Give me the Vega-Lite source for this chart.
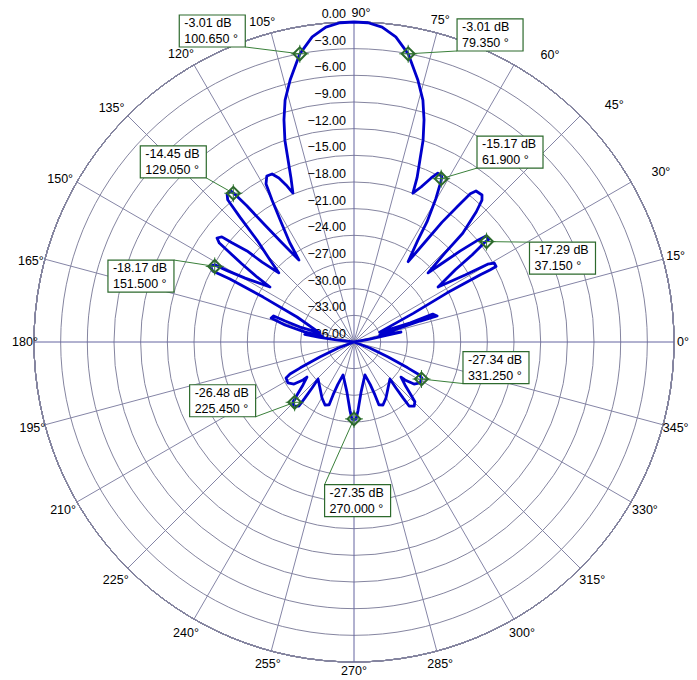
{
"$schema": "https://vega.github.io/schema/vega-lite/v6.json",
"width": 640, "height": 640,
"autosize": {"type": "none"},
"padding": {"left": 34, "top": 22, "right": 23, "bottom": 18},
"background": "white",
"config": {"view": {"stroke": null}, "text": {"font": "Liberation Sans", "fontSize": 12.5, "color": "#000000"}},
"datasets": {
"rings": [{"db": -36},{"db": -33},{"db": -30},{"db": -27},{"db": -24},{"db": -21},{"db": -18},{"db": -15},{"db": -12},{"db": -9},{"db": -6},{"db": -3},{"db": 0}],
"spokes": [{"a":0,"t":"0°"},{"a":15,"t":"15°"},{"a":30,"t":"30°"},{"a":45,"t":"45°"},{"a":60,"t":"60°"},{"a":75,"t":"75°"},{"a":90,"t":"90°"},{"a":105,"t":"105°"},{"a":120,"t":"120°"},{"a":135,"t":"135°"},{"a":150,"t":"150°"},{"a":165,"t":"165°"},{"a":180,"t":"180°"},{"a":195,"t":"195°"},{"a":210,"t":"210°"},{"a":225,"t":"225°"},{"a":240,"t":"240°"},{"a":255,"t":"255°"},{"a":270,"t":"270°"},{"a":285,"t":"285°"},{"a":300,"t":"300°"},{"a":315,"t":"315°"},{"a":330,"t":"330°"},{"a":345,"t":"345°"}],
"curve": [
{"i":0,"a":5,"db":-36},{"i":1,"a":10.6,"db":-34.2},{"i":2,"a":11.5,"db":-32.3},{"i":3,"a":12.0,"db":-30.6},{"i":4,"a":13.3,"db":-31.8},{"i":5,"a":15.1,"db":-33.0},{"i":6,"a":16.9,"db":-30.6},{"i":7,"a":17.6,"db":-28.2},{"i":8,"a":17.4,"db":-26.2},{"i":9,"a":19.5,"db":-26.6},{"i":10,"a":18.7,"db":-29.3},{"i":11,"a":20.1,"db":-32.4},{"i":12,"a":21.0,"db":-32.9},
{"i":13,"a":25.8,"db":-28.6},{"i":14,"a":27.8,"db":-24.2},{"i":15,"a":28.0,"db":-19.9},{"i":16,"a":27.9,"db":-18.7},{"i":17,"a":28.0,"db":-17.9},{"i":18,"a":29.4,"db":-17.9},{"i":19,"a":30.2,"db":-18.6},{"i":20,"a":31.1,"db":-21.4},{"i":21,"a":33.2,"db":-24.7},
{"i":22,"a":35.5,"db":-22.0},{"i":23,"a":36.4,"db":-19.5},{"i":24,"a":37.3,"db":-17.6},{"i":25,"a":37.3,"db":-16.9},{"i":26,"a":38.8,"db":-17.0},{"i":27,"a":39.4,"db":-17.9},{"i":28,"a":40.6,"db":-20.3},{"i":29,"a":41.9,"db":-22.9},{"i":30,"a":43.0,"db":-24.6},
{"i":31,"a":44.4,"db":-21.7},{"i":32,"a":45.0,"db":-18.7},{"i":33,"a":46.8,"db":-15.9},{"i":34,"a":47.97,"db":-14.5},{"i":35,"a":48.95,"db":-14.07},{"i":36,"a":51.07,"db":-14.16},{"i":37,"a":51.9,"db":-14.8},{"i":38,"a":52.6,"db":-16.7},{"i":39,"a":53.7,"db":-19.3},{"i":40,"a":54.6,"db":-22.2},{"i":41,"a":56.0,"db":-25.1},
{"i":42,"a":57.9,"db":-22.5},{"i":43,"a":58.7,"db":-20.2},{"i":44,"a":60.3,"db":-17.4},{"i":45,"a":61.6,"db":-15.4},{"i":46,"a":62.1,"db":-14.9},{"i":47,"a":63.6,"db":-14.8},{"i":48,"a":64.8,"db":-15.6},{"i":49,"a":66.6,"db":-17.0},{"i":50,"a":68.4,"db":-18.0},
{"i":51,"a":69.0,"db":-16.2},{"i":52,"a":70.1,"db":-14.2},{"i":53,"a":71.1,"db":-12.0},{"i":54,"a":72.5,"db":-9.8},{"i":55,"a":74.1,"db":-7.7},{"i":56,"a":76.3,"db":-5.66},{"i":57,"a":79.35,"db":-3.01},{"i":58,"a":82.2,"db":-1.36},{"i":59,"a":84.9,"db":-0.43},{"i":60,"a":87.5,"db":-0.05},{"i":61,"a":90,"db":0},
{"i":62,"a":92.5,"db":-0.05},{"i":63,"a":95.1,"db":-0.43},{"i":64,"a":97.8,"db":-1.36},{"i":65,"a":100.65,"db":-3.01},{"i":66,"a":103.7,"db":-5.66},{"i":67,"a":105.9,"db":-7.7},{"i":68,"a":107.5,"db":-9.8},{"i":69,"a":108.9,"db":-12.0},{"i":70,"a":109.9,"db":-14.2},{"i":71,"a":111.0,"db":-16.2},{"i":72,"a":112.3,"db":-17.9},
{"i":73,"a":113.4,"db":-16.75},{"i":74,"a":114.6,"db":-15.7},{"i":75,"a":116.0,"db":-14.97},{"i":76,"a":117.7,"db":-14.9},{"i":77,"a":119.1,"db":-15.65},{"i":78,"a":120.0,"db":-17.55},{"i":79,"a":121.3,"db":-20.2},{"i":80,"a":122.9,"db":-22.7},{"i":81,"a":123.9,"db":-24.9},
{"i":82,"a":126.0,"db":-22.2},{"i":83,"a":127.3,"db":-19.5},{"i":84,"a":128.2,"db":-16.5},{"i":85,"a":128.8,"db":-14.8},{"i":86,"a":129.2,"db":-14.1},{"i":87,"a":130.6,"db":-14.06},{"i":88,"a":131.6,"db":-14.6},{"i":89,"a":132.4,"db":-16.97},{"i":90,"a":133.6,"db":-20.2},{"i":91,"a":135.7,"db":-22.8},{"i":92,"a":137.4,"db":-24.5},
{"i":93,"a":139.0,"db":-22.3},{"i":94,"a":139.6,"db":-20.2},{"i":95,"a":140.9,"db":-18.3},{"i":96,"a":141.5,"db":-17.0},{"i":97,"a":142.8,"db":-16.65},{"i":98,"a":143.7,"db":-17.2},{"i":99,"a":144.3,"db":-18.8},{"i":100,"a":145.1,"db":-20.6},{"i":101,"a":146.2,"db":-22.9},{"i":102,"a":146.8,"db":-24.7},
{"i":103,"a":149.6,"db":-21.8},{"i":104,"a":150.6,"db":-19.7},{"i":105,"a":151.0,"db":-18.1},{"i":106,"a":152.2,"db":-17.7},{"i":107,"a":153.3,"db":-18.2},{"i":108,"a":153.1,"db":-20.35},{"i":109,"a":153.7,"db":-24.6},{"i":110,"a":156.3,"db":-29.0},{"i":111,"a":165.2,"db":-32.0},
{"i":112,"a":164.5,"db":-29.7},{"i":113,"a":163.1,"db":-27.9},{"i":114,"a":162.0,"db":-26.5},{"i":115,"a":163.9,"db":-26.3},{"i":116,"a":166.2,"db":-28.0},{"i":117,"a":168.5,"db":-30.4},{"i":118,"a":169.4,"db":-32.3},
{"i":119,"a":168.9,"db":-30.7},{"i":120,"a":171.3,"db":-30.4},{"i":121,"a":172.5,"db":-32.1},{"i":122,"a":172.9,"db":-34.2},{"i":123,"a":180,"db":-36},
{"i":124,"a":200.6,"db":-34.1},{"i":125,"a":203.8,"db":-31.8},{"i":126,"a":205.7,"db":-29.3},{"i":127,"a":206.6,"db":-27.95},{"i":128,"a":207.9,"db":-27.35},{"i":129,"a":211.8,"db":-27.26},{"i":130,"a":215.0,"db":-27.76},{"i":131,"a":216.7,"db":-28.85},{"i":132,"a":216.7,"db":-29.4},
{"i":133,"a":220.1,"db":-28.5},{"i":134,"a":222.9,"db":-27.25},{"i":135,"a":224.5,"db":-26.4},{"i":136,"a":226.8,"db":-26.1},{"i":137,"a":229.3,"db":-26.5},{"i":138,"a":228.8,"db":-27.6},{"i":139,"a":227.6,"db":-29.0},{"i":140,"a":225.8,"db":-30.2},
{"i":141,"a":233.5,"db":-29.56},{"i":142,"a":240.3,"db":-28.74},{"i":143,"a":245.3,"db":-28.2},{"i":144,"a":248.4,"db":-28.4},{"i":145,"a":248.4,"db":-29.6},{"i":146,"a":249.1,"db":-30.9},{"i":147,"a":251.6,"db":-32.1},
{"i":148,"a":262.0,"db":-30.3},{"i":149,"a":266.6,"db":-28.3},{"i":150,"a":268.5,"db":-27.3},{"i":151,"a":271.5,"db":-27.3},{"i":152,"a":273.4,"db":-28.3},{"i":153,"a":278.0,"db":-30.3},{"i":154,"a":288.4,"db":-32.1},
{"i":155,"a":290.9,"db":-30.9},{"i":156,"a":291.6,"db":-29.6},{"i":157,"a":291.6,"db":-28.4},{"i":158,"a":294.7,"db":-28.2},{"i":159,"a":299.7,"db":-28.74},{"i":160,"a":306.5,"db":-29.56},{"i":161,"a":314.2,"db":-30.2},
{"i":162,"a":312.4,"db":-29.0},{"i":163,"a":311.2,"db":-27.6},{"i":164,"a":310.7,"db":-26.5},{"i":165,"a":313.2,"db":-26.1},{"i":166,"a":315.5,"db":-26.4},{"i":167,"a":317.1,"db":-27.25},{"i":168,"a":319.9,"db":-28.5},{"i":169,"a":323.3,"db":-29.4},
{"i":170,"a":323.3,"db":-28.85},{"i":171,"a":325.0,"db":-27.76},{"i":172,"a":328.2,"db":-27.26},{"i":173,"a":332.1,"db":-27.35},{"i":174,"a":333.4,"db":-27.95},{"i":175,"a":334.3,"db":-29.3},{"i":176,"a":336.2,"db":-31.8},{"i":177,"a":339.4,"db":-34.1},{"i":178,"a":360,"db":-36}
],
"ann": [
{"a":100.65,"db":-3.01,"txt":"-3.01 dB\n100.650 °","la":114.5,"ldb":2.45},
{"a":79.35,"db":-3.01,"txt":"-3.01 dB\n79.350 °","la":66.1,"ldb":1.78},
{"a":129.05,"db":-14.45,"txt":"-14.45 dB\n129.050 °","la":135.1,"ldb":-7.3},
{"a":151.5,"db":-18.17,"txt":"-18.17 dB\n151.500 °","la":162.8,"ldb":-10.91},
{"a":61.9,"db":-15.17,"txt":"-15.17 dB\n61.900 °","la":50.6,"ldb":-8.35},
{"a":37.15,"db":-17.29,"txt":"-17.29 dB\n37.150 °","la":21.9,"ldb":-10.72},
{"a":331.25,"db":-27.34,"txt":"-27.34 dB\n331.250 °","la":349.8,"ldb":-19.77},
{"a":225.45,"db":-26.48,"txt":"-26.48 dB\n225.450 °","la":204.1,"ldb":-19.81},
{"a":270,"db":-27.35,"txt":"-27.35 dB\n270.000 °","la":271.3,"ldb":-18.16}
]
},
"layer": [
{"data": {"name": "rings"},
 "mark": {"type": "arc", "theta": 0, "theta2": 6.2832, "fill": "transparent", "stroke": "#8585a0", "strokeWidth": 1},
 "encoding": {
  "radius": {"field": "db", "type": "quantitative", "stack": null, "scale": {"type": "linear", "domain": [-36, 0], "range": [0, 320], "zero": false, "nice": false}}}},
{"data": {"name": "spokes"},
 "transform": [{"calculate": "36*cos(datum.a*PI/180)", "as": "ex"}, {"calculate": "36*sin(datum.a*PI/180)", "as": "ey"}, {"calculate": "0", "as": "z"}],
 "mark": {"type": "rule", "strokeWidth": 1},
 "encoding": {
  "x": {"field": "ex", "type": "quantitative", "scale": {"domain": [-36, 36], "nice": false, "zero": false}, "axis": null},
  "y": {"field": "ey", "type": "quantitative", "scale": {"domain": [-36, 36], "nice": false, "zero": false}, "axis": null},
  "x2": {"field": "z"}, "y2": {"field": "z"},
  "color": {"condition": {"test": "datum.a % 90 === 0", "value": "#6464a0"}, "value": "#8585a6"}}},
{"data": {"name": "rings"},
 "transform": [{"calculate": "datum.db + 36", "as": "ry"}, {"calculate": "0", "as": "z"}],
 "mark": {"type": "text", "align": "right", "baseline": "bottom", "dx": -8, "dy": -1},
 "encoding": {
  "x": {"field": "z", "type": "quantitative", "scale": {"domain": [-36, 36], "nice": false, "zero": false}, "axis": null},
  "y": {"field": "ry", "type": "quantitative", "scale": {"domain": [-36, 36], "nice": false, "zero": false}, "axis": null},
  "text": {"field": "db", "type": "quantitative", "format": ".2f"}}},
{"data": {"name": "spokes"},
 "transform": [
  {"calculate": "(329 + 8*abs(sin(2*datum.a*PI/180)))*36/320", "as": "lr"},
  {"calculate": "datum.a + (datum.a > 90 && datum.a < 180 ? 1 : 0)", "as": "aa"},
  {"calculate": "datum.a >= 30 && datum.a <= 60 ? (16 + (datum.a-30)*0.4) : (datum.a == 90 ? 7 : 0)", "as": "sx"},
  {"calculate": "datum.a >= 30 && datum.a <= 60 ? (-2 + (datum.a-30)*0.2) : 0", "as": "sy"},
  {"calculate": "datum.lr*cos(datum.aa*PI/180) + datum.sx*36/320", "as": "lx"},
  {"calculate": "datum.lr*sin(datum.aa*PI/180) - datum.sy*36/320", "as": "ly"}],
 "mark": {"type": "text", "align": "center", "baseline": "middle"},
 "encoding": {
  "x": {"field": "lx", "type": "quantitative", "scale": {"domain": [-36, 36], "nice": false, "zero": false}, "axis": null},
  "y": {"field": "ly", "type": "quantitative", "scale": {"domain": [-36, 36], "nice": false, "zero": false}, "axis": null},
  "text": {"field": "t"}}},
{"data": {"name": "curve"},
 "transform": [{"calculate": "max(0, datum.db + 36)*cos(datum.a*PI/180)", "as": "px"}, {"calculate": "max(0, datum.db + 36)*sin(datum.a*PI/180)", "as": "py"}],
 "mark": {"type": "line", "color": "#0000cc", "strokeWidth": 2.8, "strokeJoin": "round", "strokeCap": "round"},
 "encoding": {
  "x": {"field": "px", "type": "quantitative", "scale": {"domain": [-36, 36], "nice": false, "zero": false}, "axis": null},
  "y": {"field": "py", "type": "quantitative", "scale": {"domain": [-36, 36], "nice": false, "zero": false}, "axis": null},
  "order": {"field": "i", "type": "quantitative"}}},
{"data": {"name": "ann"},
 "transform": [
  {"calculate": "(datum.db+36)*cos(datum.a*PI/180)", "as": "mx"},
  {"calculate": "(datum.db+36)*sin(datum.a*PI/180)", "as": "my"},
  {"calculate": "(datum.ldb+36)*cos(datum.la*PI/180)", "as": "bx"},
  {"calculate": "(datum.ldb+36)*sin(datum.la*PI/180)", "as": "by"},
  {"calculate": "datum.bx + (datum.mx > datum.bx ? 3.71 : -3.71)", "as": "ex"},
  {"calculate": "datum.by + (datum.my > datum.by ? 1.8 : -1.8)", "as": "ey"}],
 "layer": [
  {"mark": {"type": "rule", "color": "#3a803a", "strokeWidth": 1},
   "encoding": {
    "x": {"field": "mx", "type": "quantitative", "scale": {"domain": [-36, 36], "nice": false, "zero": false}, "axis": null},
    "y": {"field": "my", "type": "quantitative", "scale": {"domain": [-36, 36], "nice": false, "zero": false}, "axis": null},
    "x2": {"field": "ex"}, "y2": {"field": "ey"}}},
  {"mark": {"type": "point", "shape": "M-1,0H1M0,-1V1", "size": 324, "filled": false, "stroke": "#3a803a", "strokeWidth": 1, "opacity": 1},
   "encoding": {
    "x": {"field": "mx", "type": "quantitative", "scale": {"domain": [-36, 36], "nice": false, "zero": false}, "axis": null},
    "y": {"field": "my", "type": "quantitative", "scale": {"domain": [-36, 36], "nice": false, "zero": false}, "axis": null}}},
  {"mark": {"type": "point", "shape": "diamond", "size": 165, "filled": false, "stroke": "#2d6a2d", "strokeWidth": 2, "opacity": 1},
   "encoding": {
    "x": {"field": "mx", "type": "quantitative", "scale": {"domain": [-36, 36], "nice": false, "zero": false}, "axis": null},
    "y": {"field": "my", "type": "quantitative", "scale": {"domain": [-36, 36], "nice": false, "zero": false}, "axis": null}}},
  {"mark": {"type": "point", "shape": "M-1,-0.485H1V0.485H-1Z", "size": 4356, "filled": true, "fill": "#ffffff", "stroke": "#2d6a2d", "strokeWidth": 1.2, "opacity": 1},
   "encoding": {
    "x": {"field": "bx", "type": "quantitative", "scale": {"domain": [-36, 36], "nice": false, "zero": false}, "axis": null},
    "y": {"field": "by", "type": "quantitative", "scale": {"domain": [-36, 36], "nice": false, "zero": false}, "axis": null}}},
  {"mark": {"type": "text", "align": "left", "baseline": "middle", "dx": -28, "dy": -8, "lineBreak": "\n", "lineHeight": 16},
   "encoding": {
    "x": {"field": "bx", "type": "quantitative", "scale": {"domain": [-36, 36], "nice": false, "zero": false}, "axis": null},
    "y": {"field": "by", "type": "quantitative", "scale": {"domain": [-36, 36], "nice": false, "zero": false}, "axis": null},
    "text": {"field": "txt"}}}
 ]}
]
}
